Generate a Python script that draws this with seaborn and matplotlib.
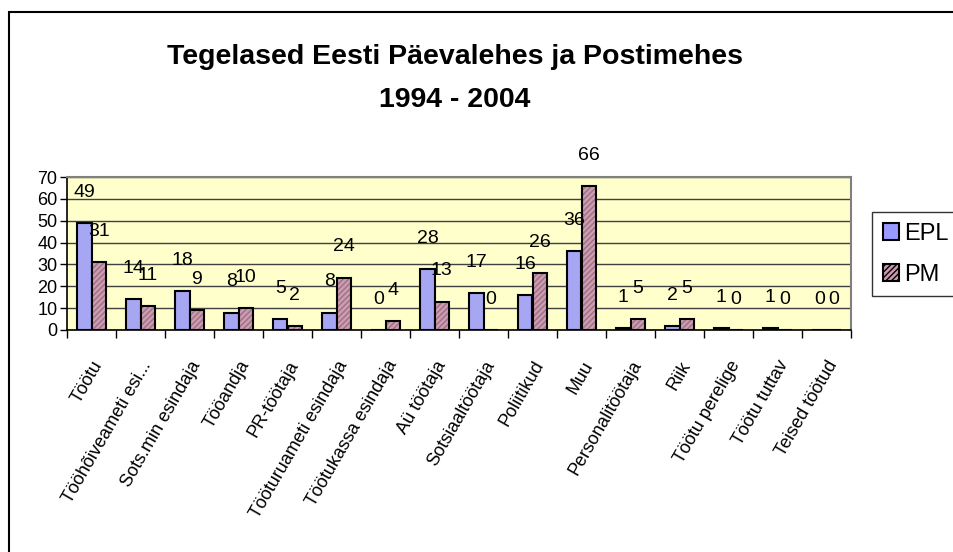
import matplotlib
matplotlib.use("Agg")
import matplotlib.pyplot as plt
import seaborn as sns
import pandas as pd
from matplotlib.patches import Rectangle, Patch

categories = ["Töötu", "Tööhõiveameti esi...", "Sots.min esindaja", "Tööandja", "PR-töötaja",
              "Tööturuameti esindaja", "Töötukassa esindaja", "Aü töötaja", "Sotsiaaltöötaja",
              "Poliitikud", "Muu", "Personalitöötaja", "Riik", "Töötu perelige", "Töötu tuttav",
              "Teised töötud"]
epl = [49, 14, 18, 8, 5, 8, 0, 28, 17, 16, 36, 1, 2, 1, 1, 0]
pm = [31, 11, 9, 10, 2, 24, 4, 13, 0, 26, 66, 5, 5, 0, 0, 0]
series = ["EPL", "PM"]
yticks = [0, 10, 20, 30, 40, 50, 60, 70]

df = pd.DataFrame({
    "cat": categories * 2,
    "val": epl + pm,
    "ser": [series[0]] * len(categories) + [series[1]] * len(categories),
})

sns.set_theme(style="white")
narrow = ["Liberation Sans Narrow", "Liberation Sans", "DejaVu Sans"]
plt.rcParams["font.family"] = ["Liberation Sans", "DejaVu Sans"]
plt.rcParams["text.color"] = "black"
plt.rcParams["xtick.color"] = "black"
plt.rcParams["ytick.color"] = "black"

fig = plt.figure(figsize=(9.54, 5.52), dpi=100)
ax = fig.add_axes([67 / 954, 1 - 330 / 552, 784 / 954, 153 / 552])
ax.set_facecolor("#FFFFCC")

sns.barplot(data=df, x="cat", y="val", hue="ser", order=categories, hue_order=series,
            palette={"EPL": "#9999FF", "PM": "#CC99B0"}, width=0.58, gap=0,
            edgecolor="black", linewidth=1.5, ax=ax, legend=False, zorder=3)

n = len(categories)
pm_patches = ax.patches[n:2 * n]
for p in pm_patches:
    p.set_hatch("//////")
    p.set_edgecolor("#A86A85")
    p.set_linewidth(0)
    ax.add_patch(Rectangle((p.get_x(), p.get_y()), p.get_width(), p.get_height(),
                           fill=False, edgecolor="black", linewidth=1.5, zorder=4))

# data labels
for p, v in zip(ax.patches[:n], epl):
    ax.text(p.get_x() + p.get_width() / 2, v + 14, str(v), ha="center", va="center",
            fontsize=14, family=narrow, zorder=5)
for p, v in zip(pm_patches, pm):
    ax.text(p.get_x() + p.get_width() / 2, v + 14, str(v), ha="center", va="center",
            fontsize=14, family=narrow, zorder=5)

ax.set_ylim(0, 70)
ax.set_xlim(-0.5, n - 0.5)
ax.set_yticks(yticks)
ax.set_yticklabels([str(t) for t in yticks], fontsize=13, family=narrow)
ax.yaxis.grid(True, color="#404040", linewidth=1, zorder=0)
ax.set_axisbelow(True)

ax.set_xticks([i - 0.5 for i in range(n + 1)], minor=False)
ax.set_xticklabels([])
ax.set_xticks(range(n), minor=True)
ax.set_xticklabels(categories, minor=True, rotation=60, ha="right", rotation_mode="anchor",
                   fontsize=13, family=narrow)
ax.tick_params(axis="x", which="minor", length=0, pad=20)
ax.tick_params(axis="x", which="major", length=6, width=1, color="black", direction="out")
ax.tick_params(axis="y", length=5, width=1, color="black", direction="out", pad=2)
ax.tick_params(left=True, bottom=True)
ax.set_xlabel("")
ax.set_ylabel("")

for s in ["top", "right"]:
    ax.spines[s].set_color("#808080")
    ax.spines[s].set_linewidth(1.5)
for s in ["left", "bottom"]:
    ax.spines[s].set_color("black")
    ax.spines[s].set_linewidth(1.2)

fig.text(455 / 954, 1 - 57 / 552, "Tegelased Eesti Päevalehes ja Postimehes", ha="center",
         va="center", fontsize=20.5, fontweight="bold")
fig.text(455 / 954, 1 - 100 / 552, "1994 - 2004", ha="center", va="center", fontsize=20.5,
         fontweight="bold")

# legend
handles = [Patch(facecolor="#9999FF", edgecolor="black", linewidth=1.5),
           Patch(facecolor="#CC99B0", edgecolor="black", linewidth=1.5, hatch="//////")]
leg = fig.legend(handles, series, loc="upper left", bbox_to_anchor=(872 / 954, 1 - 212 / 552),
                 fontsize=17, frameon=True, fancybox=False, edgecolor="black",
                 handlelength=0.7, handleheight=0.7, handletextpad=0.2, borderpad=0.45,
                 labelspacing=0.8, borderaxespad=0)
leg.get_frame().set_linewidth(1)

# outer chart frame (top and left edges visible)
fig.patches.append(Rectangle((9 / 954, -0.1), 1.2, 1 - 12 / 552 + 0.1, transform=fig.transFigure,
                             fill=False, edgecolor="black", linewidth=1.5, zorder=0))

fig.savefig("out.png", dpi=100)
